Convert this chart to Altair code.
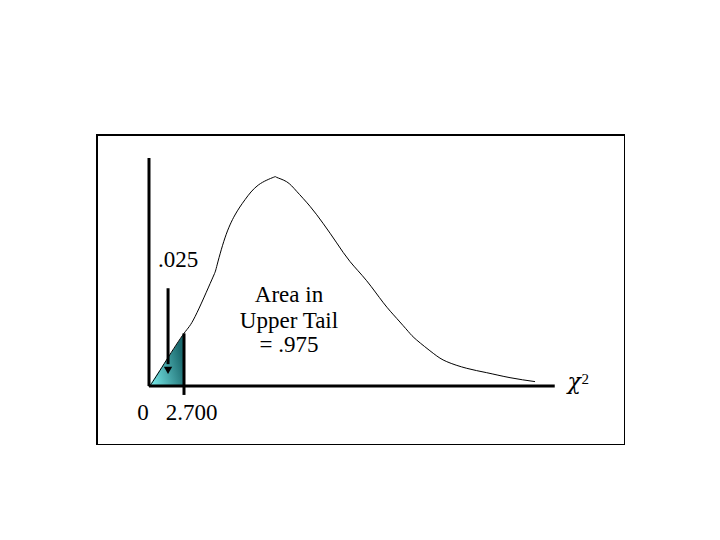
import altair as alt
import pandas as pd

# Chi-square density curve (df = 9)
curve_x = [0.0, 0.21, 1.35, 2.70, 3.55, 4.84, 5.22, 5.86, 6.63, 7.41, 8.43, 9.59, 9.85,
           10.62, 11.39, 12.42, 13.45, 14.48, 15.51, 16.79, 18.08, 19.11, 20.0, 20.65,
           21.93, 22.97, 24.51, 26.05, 27.85, 29.78]
curve_y = [0.0, 0.0013, 0.0125, 0.0253, 0.0333, 0.0510, 0.0574, 0.0712, 0.0822, 0.0896,
           0.0966, 0.1003, 0.1003, 0.0982, 0.0936, 0.0864, 0.0780, 0.0688, 0.0598, 0.0506,
           0.0400, 0.0325, 0.0262, 0.0221, 0.0157, 0.0117, 0.0085, 0.0064, 0.0040, 0.0021]

# Lower tail area (.025) up to the critical value 2.700
tail_x = [0.0, 1.35, 2.70]
tail_y = [0.0, 0.0125, 0.0253]

critical_value = 2.70
critical_top = 0.0253
critical_bottom = -0.0043

axis_x_end = 31.3
axis_y_top = 0.1096

arrow_x = 1.47
arrow_top = 0.047
arrow_bottom = 0.0075

x_domain = [-4.011, 36.72]
y_domain = [-0.02837, 0.12067]

labels_text = [".025", "0", "2.700", "Area in", "Upper Tail", "= .975"]
labels_x = [2.24, -0.46, 3.28, 10.8, 10.8, 10.8]
labels_y = [0.0572, -0.0163, -0.0163, 0.0404, 0.0279, 0.0163]

xs = alt.Scale(domain=x_domain, nice=False, zero=False)
ys = alt.Scale(domain=y_domain, nice=False, zero=False)

curve_df = pd.DataFrame({"x": curve_x, "y": curve_y})
tail_df = pd.DataFrame({"x": tail_x, "y": tail_y})

X = lambda f="x": alt.X(f"{f}:Q", scale=xs, axis=None)
Y = lambda f="y": alt.Y(f"{f}:Q", scale=ys, axis=None)

area = alt.Chart(tail_df).mark_area(
    color=alt.Gradient(
        gradient="linear",
        stops=[alt.GradientStop(offset=0, color="#7ef2f2"),
               alt.GradientStop(offset=1, color="#1b6a6e")],
        x1=0, x2=1, y1=1, y2=0.6,
    )
).encode(x=X(), y=Y())

curve = alt.Chart(curve_df).mark_line(color="black", strokeWidth=1, interpolate="natural").encode(
    x=X(), y=Y())

axes_df = pd.DataFrame({"x": [0.0, 0.0], "x2": [0.0, axis_x_end],
                        "y": [0.0, 0.0], "y2": [axis_y_top, 0.0]})
axes = alt.Chart(axes_df).mark_rule(color="black", strokeWidth=3).encode(
    x=X(), x2="x2:Q", y=Y(), y2="y2:Q")

crit_df = pd.DataFrame({"x": [critical_value], "y": [critical_bottom], "y2": [critical_top]})
crit = alt.Chart(crit_df).mark_rule(color="black", strokeWidth=3).encode(
    x=X(), y=Y(), y2="y2:Q")

arrow_df = pd.DataFrame({"x": [arrow_x], "y": [arrow_bottom + 0.003], "y2": [arrow_top]})
arrow = alt.Chart(arrow_df).mark_rule(color="black", strokeWidth=3).encode(
    x=X(), y=Y(), y2="y2:Q")
head_df = pd.DataFrame({"x": [arrow_x], "y": [arrow_bottom]})
head = alt.Chart(head_df).mark_point(shape="triangle-down", filled=True, color="black",
                                     size=70, opacity=1).encode(x=X(), y=Y())

lab_df = pd.DataFrame({"x": labels_x, "y": labels_y, "t": labels_text})
labels = alt.Chart(lab_df).mark_text(font="Liberation Serif", fontSize=23, color="black",
                                     baseline="alphabetic", align="center").encode(
    x=X(), y=Y(), text="t:N")

chi_df = pd.DataFrame({"x": [32.8], "y": [-0.0014], "t": ["χ"]})
chi = alt.Chart(chi_df).mark_text(font="DejaVu Serif", fontStyle="italic", fontSize=22,
                                  color="black", baseline="alphabetic", align="center").encode(
    x=X(), y=Y(), text="t:N")
sup_df = pd.DataFrame({"x": [33.65], "y": [0.001], "t": ["2"]})
sup = alt.Chart(sup_df).mark_text(font="Liberation Serif", fontSize=15, color="black",
                                  baseline="alphabetic", align="center").encode(
    x=X(), y=Y(), text="t:N")

chart = alt.layer(area, curve, axes, crit, arrow, head, labels, chi, sup).properties(
    width=528, height=310,
    padding={"left": 89, "top": 127, "right": 0, "bottom": 0},
    autosize=alt.AutoSizeParams(type="none"),
    background="white",
).configure_view(stroke="black", strokeWidth=2)

chart.save("out.html", embed_options={"renderer": "svg", "actions": False})
